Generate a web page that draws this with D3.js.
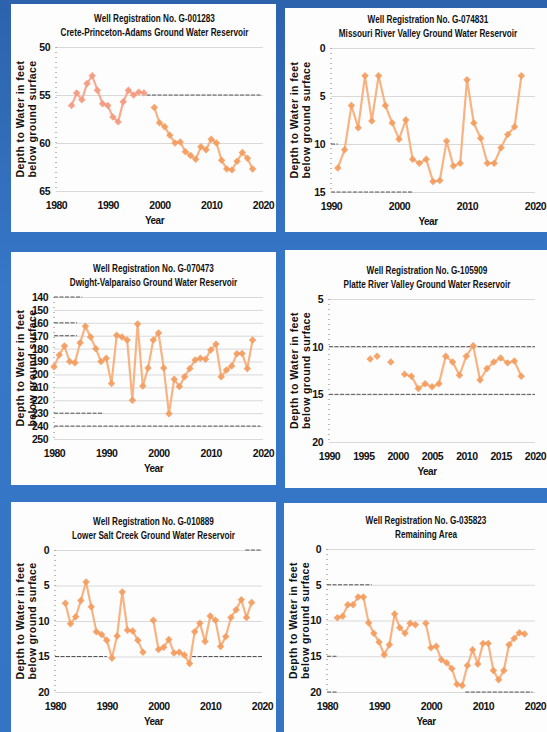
<!DOCTYPE html>
<html>
<head>
<meta charset="utf-8">
<script src="https://cdn.jsdelivr.net/npm/d3@7"></script>
<style>
  body { margin: 0; background: #3474c4; }
  svg { display: block; }
  .title { font-family: 'Liberation Sans', Arial, sans-serif; font-weight: bold; font-size: 10px; fill: #111; }
  .tick text { font-family: 'Liberation Sans', Arial, sans-serif; font-weight: bold; font-size: 10.5px; letter-spacing: -0.5px; fill: #111; }
  .ytitle { font-family: 'Liberation Sans', Arial, sans-serif; font-weight: bold; font-size: 10.5px; letter-spacing: 0.4px; fill: #111; }
  .xtitle { font-family: 'Liberation Sans', Arial, sans-serif; font-weight: bold; font-size: 10px; letter-spacing: -0.5px; fill: #111; }
</style>
</head>
<body>
<svg id="chart" width="547" height="732"></svg>
<script>
// Well G-001283, Crete-Princeton-Adams (1998 missing)
const years1 = d3.range(1983, 2019);
const depth1 = [56.1, 54.8, 55.5, 53.8, 53.0, 54.5, 55.9, 56.1, 57.3, 57.8, 55.7, 54.5, 55.0, 54.7, 54.8,
  null, 56.3, 57.9, 58.3, 59.2, 60.0, 59.9, 60.9, 61.3, 61.7, 60.4, 60.7, 59.6, 60.0, 61.8, 62.7, 62.8,
  61.9, 61.0, 61.6, 62.7];

// Well G-074831, Missouri River Valley
const years2 = d3.range(1991, 2019);
const depth2 = [12.5, 10.6, 6.0, 8.3, 2.9, 7.6, 2.9, 6.0, 7.8, 9.5, 7.5, 11.6, 12.0, 11.6, 13.9, 13.8,
  9.7, 12.3, 12.0, 3.3, 7.8, 9.4, 12.0, 12.0, 10.4, 9.0, 8.2, 2.9];

// Well G-070473, Dwight-Valparaiso
const years3 = d3.range(1980, 2019);
const depth3 = [194, 185, 178, 190, 191, 175.5, 162.6, 171, 180, 190, 187.5, 207, 169.6, 171, 173.4,
  220, 161, 209, 195, 173.4, 167.8, 195, 230.5, 203.7, 209.4, 201.7, 195.3, 188.8, 187.5, 188.3, 181,
  176.5, 201.7, 196.6, 193.5, 184, 183.7, 195.3, 173.4];

// Well G-105909, Platte River Valley (early readings stand alone)
const years4 = [1996, 1996.5, 1997, 1998, 1999, 2000].concat(d3.range(2001, 2019));
const depth4 = [11.3, null, 11.0, null, 11.6, null, 12.9, 13.1, 14.4, 13.9, 14.2, 13.9, 11.0, 11.6,
  13.0, 11.0, 9.9, 13.5, 12.3, 11.6, 11.2, 11.7, 11.5, 13.1];

// Well G-010889, Lower Salt Creek (1998 missing)
const years5 = d3.range(1982, 2019);
const depth5 = [7.5, 10.4, 9.4, 7.1, 4.5, 8.0, 11.5, 11.9, 12.7, 15.2, 12.1, 5.9, 11.3, 11.4, 12.7, 14.4,
  null, 9.9, 14.0, 13.7, 12.6, 14.5, 14.4, 14.8, 16.0, 11.5, 10.3, 12.9, 9.3, 9.9, 13.6, 12.2, 9.5,
  8.4, 7.0, 9.5, 7.4];

// Well G-035823, Remaining Area (1998 missing)
const years6 = d3.range(1982, 2019);
const depth6 = [9.6, 9.4, 7.8, 7.8, 6.7, 6.7, 10.3, 11.8, 13.0, 14.8, 13.4, 9.1, 11.0, 11.8, 10.4, 10.6,
  null, 10.4, 13.8, 13.6, 15.5, 15.9, 16.7, 18.9, 19.1, 16.3, 14.1, 16.1, 13.2, 13.2, 17.0, 18.3, 17.0,
  13.4, 12.5, 11.7, 11.9];

// Titles and axis settings
const titles = [
  ['Well Registration No. G-001283', 'Crete-Princeton-Adams Ground Water Reservoir'],
  ['Well Registration No. G-074831', 'Missouri River Valley Ground Water Reservoir'],
  ['Well Registration No. G-070473', 'Dwight-Valparaiso Ground Water Reservoir'],
  ['Well Registration No. G-105909', 'Platte River Valley Ground Water Reservoir'],
  ['Well Registration No. G-010889', 'Lower Salt Creek Ground Water Reservoir'],
  ['Well Registration No. G-035823', 'Remaining Area']
];
const yDomains = [[50, 65], [0, 15], [140, 250], [5, 20], [0, 20], [0, 20]];
const yTicks = [d3.range(50, 66, 5), d3.range(0, 16, 5), d3.range(140, 251, 10), d3.range(5, 21, 5),
  d3.range(0, 21, 5), d3.range(0, 21, 5)];
const xDomains = [[1980, 2020], [1990, 2020], [1980, 2020], [1990, 2020], [1980, 2020], [1980, 2020]];
const xTicks = [d3.range(1980, 2021, 10), d3.range(1990, 2021, 10), d3.range(1980, 2021, 10),
  d3.range(1990, 2021, 5), d3.range(1980, 2021, 10), d3.range(1980, 2021, 10)];

const series = [
  [years1, depth1], [years2, depth2], [years3, depth3],
  [years4, depth4], [years5, depth5], [years6, depth6]
];

// Layout: white card and plot box for each panel
const cards = [
  { x: 11, y: 4, w: 265, h: 228 }, { x: 285, y: 8, w: 262, h: 224 },
  { x: 11, y: 252, w: 265, h: 233 }, { x: 285, y: 250, w: 262, h: 238 },
  { x: 11, y: 502, w: 265, h: 230 }, { x: 284, y: 503, w: 263, h: 229 }
];
const plots = [
  { l: 56, r: 263, t: 47, b: 191 }, { l: 331, r: 535, t: 48, b: 192 },
  { l: 54, r: 263, t: 297, b: 439 }, { l: 329, r: 535, t: 299, b: 442 },
  { l: 55, r: 262, t: 550, b: 692 }, { l: 327, r: 535, t: 549, b: 692 }
];
// darker, scanned-looking gridline pieces: [value, fromYear, toYear]
const scanLines = [
  [[55, 1997.5, 2019.5]],
  [[15, 1990, 2002], [10, 1990, 1991]],
  [[140, 1980, 1985.4], [160, 1980, 1984.4], [170, 1980, 1984.4], [230, 1980, 1989.5], [240, 1980, 2019.5]],
  [[10, 1990, 2020], [15, 1990, 2020]],
  [[15, 1980, 1990], [15, 2006.5, 2020], [0, 2016.8, 2020]],
  [[5, 1980, 1988.6], [15, 1980, 1982], [20, 1980, 1982], [20, 2006.6, 2019.5]]
];
// [line, marker] colours for each run of readings
const runColors = [
  [['#f7ab92', '#f39a80'], ['#f8b383', '#f39c5e']],
  [['#f8b383', '#f39c5e']], [['#f8b383', '#f39c5e']], [['#f8b383', '#f39c5e']],
  [['#f8b383', '#f39c5e']], [['#f8b383', '#f39c5e']]
];

const svg = d3.select('#chart');

// blue backdrop with a darker top band
const grad = svg.append('defs').append('linearGradient')
  .attr('id', 'bg').attr('x1', 0).attr('y1', 0).attr('x2', 0).attr('y2', 1);
grad.append('stop').attr('offset', '0%').attr('stop-color', '#2d63ad');
grad.append('stop').attr('offset', '40%').attr('stop-color', '#3677c8');
grad.append('stop').attr('offset', '100%').attr('stop-color', '#3474c4');
svg.append('rect').attr('width', 547).attr('height', 732).attr('fill', 'url(#bg)');

function drawPanel(i) {
  const card = cards[i], p = plots[i];
  const [xs, ys] = series[i];

  svg.append('rect')
    .attr('x', card.x).attr('y', card.y)
    .attr('width', card.w).attr('height', card.h)
    .attr('fill', '#fdfdfd');

  const x = d3.scaleLinear().domain(xDomains[i]).range([p.l, p.r]);
  const y = d3.scaleLinear().domain(yDomains[i]).range([p.t, p.b]);

  // gridlines + tick labels
  const g = svg.append('g');
  const yAxis = g.append('g')
    .attr('transform', `translate(${p.l},0)`)
    .call(d3.axisLeft(y).tickValues(yTicks[i]).tickSize(-(p.r - p.l)).tickPadding(6).tickFormat(d3.format('d')));
  yAxis.select('.domain').remove();
  yAxis.selectAll('.tick line').attr('stroke', '#d9d9d9').attr('stroke-width', 1);

  const xAxis = g.append('g')
    .attr('transform', `translate(0,${p.b})`)
    .call(d3.axisBottom(x).tickValues(xTicks[i]).tickSize(0).tickPadding(11).tickFormat(d3.format('d')));
  xAxis.select('.domain').remove();

  // scan artefacts on some gridlines
  g.selectAll('.scan')
    .data(scanLines[i])
    .enter().append('line')
    .attr('x1', d => x(d[1])).attr('x2', d => x(d[2]))
    .attr('y1', d => y(d[0])).attr('y2', d => y(d[0]))
    .attr('stroke', '#222').attr('stroke-opacity', 0.75)
    .attr('stroke-width', 1).attr('stroke-dasharray', '4,1.5');

  // dotted left axis line
  g.append('line')
    .attr('x1', p.l).attr('x2', p.l).attr('y1', p.t).attr('y2', p.b)
    .attr('stroke', '#555').attr('stroke-width', 0.8).attr('stroke-dasharray', '1,4');

  // titles, squeezed sideways like the condensed original
  const cx = (p.l + p.r) / 2 - 5;
  titles[i].forEach((t, k) => {
    svg.append('text').attr('class', 'title')
      .attr('transform', `translate(${cx},${p.t - 25 + k * 14}) scale(0.82,1)`)
      .attr('text-anchor', 'middle').text(t);
  });

  svg.append('text').attr('class', 'xtitle').attr('x', cx).attr('y', p.b + 33)
    .attr('text-anchor', 'middle').text('Year');

  const ymid = (p.t + p.b) / 2;
  const yt = svg.append('text').attr('class', 'ytitle').attr('text-anchor', 'middle')
    .attr('transform', `translate(${card.x + 13},${ymid}) rotate(-90)`);
  yt.append('tspan').attr('x', 0).attr('dy', 0).text('Depth to Water in feet');
  yt.append('tspan').attr('x', 0).attr('dy', 12).text('below ground surface');

  // split into runs at missing readings
  const pts = xs.map((yr, k) => ({ yr, v: ys[k] }));
  const runs = [];
  let cur = [];
  pts.forEach(d => {
    if (d.v === null) { if (cur.length) runs.push(cur); cur = []; }
    else cur.push(d);
  });
  if (cur.length) runs.push(cur);

  const line = d3.line().x(d => x(d.yr)).y(d => y(d.v));
  const diamond = d3.symbol(d3.symbolSquare, 28);

  runs.forEach((run, k) => {
    const [lineCol, dotCol] = runColors[i][Math.min(k, runColors[i].length - 1)];
    svg.append('path').datum(run)
      .attr('d', line).attr('fill', 'none')
      .attr('stroke', lineCol).attr('stroke-width', 2.2);
    svg.selectAll(null).data(run).enter().append('path')
      .attr('d', diamond)
      .attr('transform', d => `translate(${x(d.yr)},${y(d.v)}) rotate(45)`)
      .attr('fill', dotCol).attr('fill-opacity', 0.9);
  });
}

d3.range(6).forEach(drawPanel);
</script>
</body>
</html>
